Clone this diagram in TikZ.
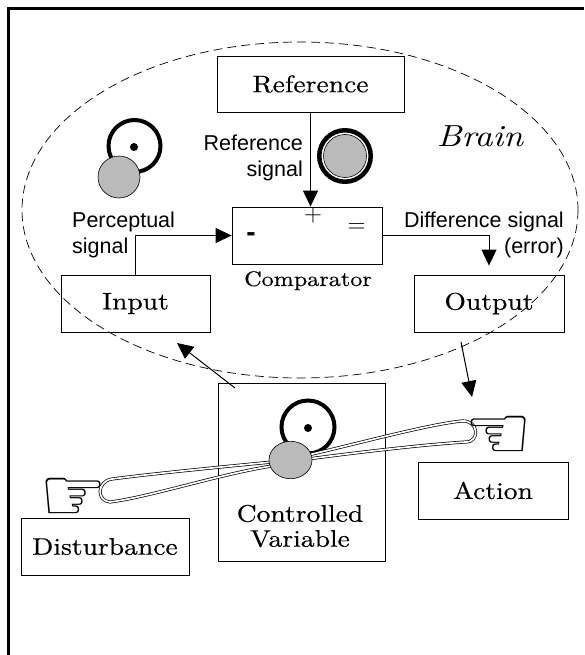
\documentclass[tikz,border=0pt]{standalone}
\usepackage{fontspec}
\newfontfamily\labelfont{Liberation Sans}
\newfontfamily\handfont{DejaVu Sans}
\newfontfamily\boxfont{lmroman10-regular}[Extension=.otf, FakeStretch=1.15, FakeBold=0.4]
\newfontfamily\brainfont{lmroman10-italic}[Extension=.otf, FakeStretch=1.15]
\usetikzlibrary{arrows.meta}

\begin{document}
\begin{tikzpicture}[x=1pt, y=-1pt,
    box/.style={draw, line width=0.8pt, inner sep=0pt, font=\boxfont\fontsize{24}{25}\selectfont},
    sig/.style={line width=1pt, -{Triangle[length=16pt, width=15pt]}},
    siglabel/.style={font=\labelfont\fontsize{21.5}{26}\selectfont, inner sep=0pt},
    band/.style={draw=black, line width=0.7pt, double=white, double distance=1.7pt},
    ring/.style={draw, line width=4pt},
    ball/.style={draw, line width=0.6pt, fill=black!27},
    hand/.style={font=\handfont\fontsize{76}{76}\selectfont, inner sep=0pt, anchor=base}]
  \useasboundingbox (0,0) rectangle (584,655);

  % frame and brain
  \draw[line width=3pt] (8.5,655) -- (8.5,8.5) -- (584,8.5);
  \draw[line width=0.7pt, dash pattern=on 9pt off 5pt] (300,210) ellipse [x radius=278, y radius=168];
  \node[font=\brainfont\fontsize{30.5}{32}\selectfont, anchor=base] (brain) at (480,147) {Brain};

  % boxes
  \node[box, minimum width=187, minimum height=56] (ref) at (310.5,84) {Reference};
  \node[box, minimum width=150, minimum height=57] (comp) at (307,235.5) {};
  \node[box, minimum width=149, minimum height=57] (inbox) at (135.5,303.5) {Input};
  \node[box, minimum width=150, minimum height=57] (outbox) at (489,303.5) {Output};
  \node[box, minimum width=167, minimum height=178] (cv) at (301.5,472) {};
  \node[box, minimum width=168, minimum height=57] (dist) at (105,546.5) {Disturbance};
  \node[box, minimum width=150, minimum height=57] (act) at (493,490.5) {Action};

  % comparator signs
  \node[font=\labelfont\bfseries\fontsize{28}{28}\selectfont, inner sep=0pt] (minus) at (251,237) {-};
  \node[font=\fontsize{27}{27}\selectfont, inner sep=0pt] (plus) at (313,215) {$+$};
  \node[font=\fontsize{29}{29}\selectfont, inner sep=0pt] (equal) at (356.5,228) {$=$};
  \node[font=\boxfont\fontsize{21}{21}\selectfont, anchor=base] (complabel) at (308,286) {Comparator};

  % signals
  \draw[sig] (ref.south) -- (ref.south |- comp.north);
  \draw[sig] (inbox.north) |- (comp.west);
  \draw[sig, shorten >=9pt] (comp.east) -| (outbox.north);
  \node[siglabel, align=right, anchor=north east] (refsig) at (303,134.5) {Reference\\signal};
  \node[siglabel, align=left, anchor=north west] (percsig) at (72,211.5) {Perceptual\\signal};
  \node[siglabel, align=right, anchor=north east] (diffsig) at (564,211.5) {Difference signal\\(error)};

  \coordinate (cvout) at (235,388);
  \coordinate (cvtip) at (177,343);
  \coordinate (actout) at (461,342);
  \coordinate (acttip) at (472,397);
  \draw[sig] (cvout) -- (cvtip);
  \draw[sig] (actout) -- (acttip);

  % perception in the brain
  \draw[ring] (134.5,146) circle (26);
  \fill (134,147) circle (4);
  \draw[ball] (119,177) circle (21);
  \draw[line width=4.5pt] (345,156) circle (25.75);
  \draw[ball] (345,156) circle (21.5);

  % controlled variable and rubber bands
  \draw[ring] (308,427) circle (26.5);
  \fill (308,428) circle (4);
  \draw[band] (272,462) .. controls (220,467) and (150,474) .. (112,479)
    .. controls (97,481) and (96,501) .. (110,502)
    .. controls (150,497) and (220,474) .. (272,466);
  \draw[band] (308,455) .. controls (360,443) and (430,424) .. (462,421)
    .. controls (479,420) and (480,442) .. (466,442)
    .. controls (430,444) and (360,452) .. (308,459);
  \draw[ball] (290.5,460) ellipse [x radius=21.5, y radius=18.7];
  \node[hand] (handl) at (74,521) {\smash{☞}};
  \node[hand] (handr) at (499,459) {\smash{☜}};
  \node[font=\boxfont\fontsize{24}{25}\selectfont, align=center] (cvtext) at (300,526) {Controlled\\Variable};
\end{tikzpicture}
\end{document}
